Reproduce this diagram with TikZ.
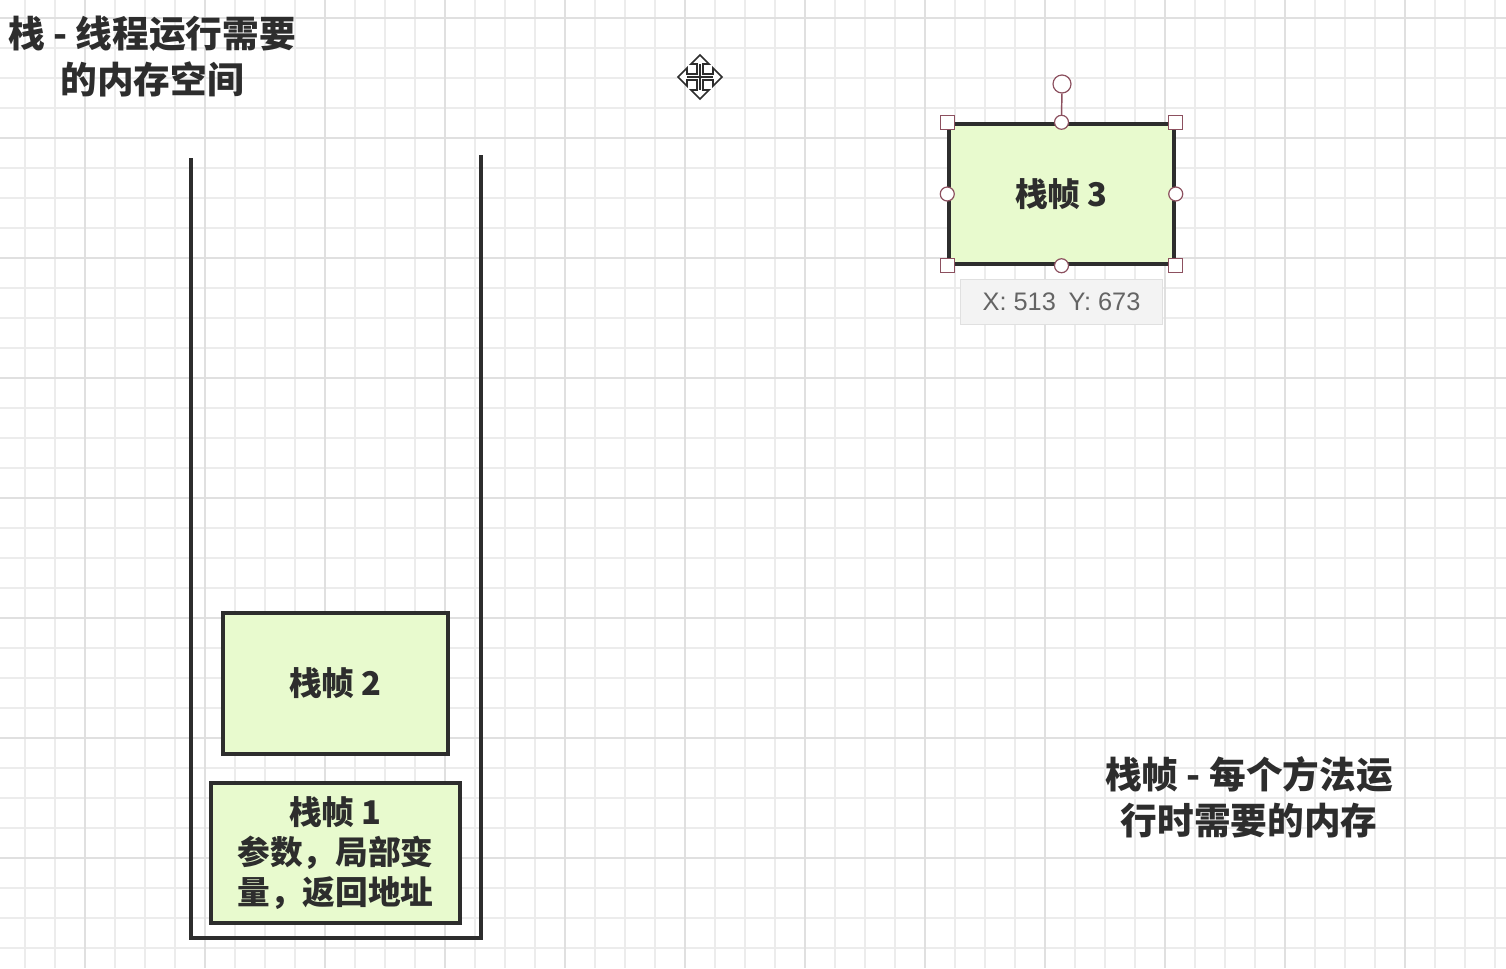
\documentclass[tikz,border=0pt]{standalone}
\usepackage{fontspec}
\setmainfont{Liberation Sans}
\newfontfamily\cjk{Noto Sans CJK SC}
\definecolor{gridminor}{RGB}{236,236,236}
\definecolor{gridmajor}{RGB}{224,224,224}
\definecolor{framefill}{RGB}{232,250,206}
\definecolor{ink}{RGB}{45,45,45}
\definecolor{handle}{RGB}{140,80,95}
\definecolor{tipfill}{RGB}{243,243,243}
\definecolor{tiptext}{RGB}{100,100,100}
\tikzset{
  minorgrid/.style={gridminor, line width=1.2pt},
  majorgrid/.style={gridmajor, line width=1.5pt},
  framebox/.style={draw=ink, fill=framefill, line width=2.6pt, inner sep=0pt,
    align=center, text=ink, font=\cjk\bfseries\fontsize{24.5}{30}\selectfont},
  stackwall/.style={draw=ink, line width=2.6pt},
  label/.style={align=center, text=ink, font=\cjk\bfseries\fontsize{27.5}{34.5}\selectfont},
  sqhandle/.style={draw=handle, fill=white, line width=0.9pt, minimum size=10.5pt, inner sep=0pt, rectangle},
  cirhandle/.style={draw=handle, fill=white, line width=0.9pt, minimum size=10.5pt, inner sep=0pt, circle},
  tooltip/.style={fill=tipfill, draw=gridmajor, line width=0.6pt, text=tiptext, minimum width=152pt, minimum height=34pt,
    font=\fontsize{19}{21}\selectfont},
}
\begin{document}
\begin{tikzpicture}[x=0.75pt, y=-0.75pt]
\useasboundingbox[fill=white] (0,0) rectangle (1506,968);
% grid
\foreach \x in {25,55,...,1495} \draw[minorgrid] (\x,0) -- (\x,968);
\foreach \y in {18,48,...,958} \draw[minorgrid] (0,\y) -- (1506,\y);
\foreach \x in {85,205,...,1405} \draw[majorgrid] (\x,0) -- (\x,968);
\foreach \y in {18,138,...,858} \draw[majorgrid] (0,\y) -- (1506,\y);

% stack container
\coordinate (tl) at (191,158);
\coordinate (bl) at (191,938);
\coordinate (br) at (481,938);
\coordinate (tr) at (481,155);
\draw[stackwall] (tl) -- (bl) -- (br) -- (tr);

% frames
\node[framebox, minimum width=225*0.75pt, minimum height=141*0.75pt] (f2) at (335.5,683.5) {栈帧 2};
\node[framebox, minimum width=249*0.75pt, minimum height=140*0.75pt] (f1) at (335.5,853) {栈帧 1\\参数，局部变\\量，返回地址};
\node[framebox, minimum width=225*0.75pt, minimum height=140*0.75pt] (f3) at (1061.5,194) {栈帧 3};

% selection handles on frame 3
\node[cirhandle, minimum size=13.5pt] (rot) at (1062,84) {};
\draw[handle, line width=1.1pt] (rot) -- (f3.north);
\foreach \a in {north west,north east,south west,south east}
  \node[sqhandle] at (f3.\a) {};
\foreach \a in {north,south,east,west}
  \node[cirhandle] at (f3.\a) {};

% tooltip
\node[tooltip] (tip) at (1061.5,302) {X: 513\enspace Y: 673};

% move cursor
\begin{scope}[shift={(700,77)}]
\draw[ink, fill=white, line width=1.3pt, line join=miter]
  (0,-22) -- (9,-13) -- (3,-13) -- (3,-3) -- (13,-3) -- (13,-9) -- (22,0) -- (13,9) -- (13,3) -- (3,3)
  -- (3,13) -- (9,13) -- (0,22) -- (-9,13) -- (-3,13) -- (-3,3) -- (-13,3) -- (-13,9) -- (-22,0)
  -- (-13,-9) -- (-13,-3) -- (-3,-3) -- (-3,-13) -- (-9,-13) -- cycle;
\draw[ink, line width=0.9pt] (0,-13) -- (0,13) (-13,0) -- (13,0);
\end{scope}

% labels
\node[label] (title) at (152,57) {栈 - 线程运行需要\\的内存空间};
\node[label] (note) at (1249,797) {栈帧 - 每个方法运\\行时需要的内存};
\end{tikzpicture}
\end{document}
